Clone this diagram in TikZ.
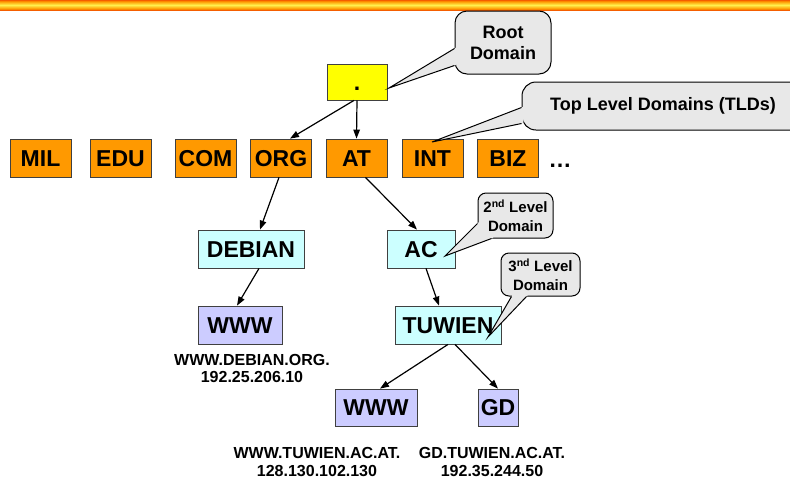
\documentclass[tikz,border=0pt]{standalone}
\usepackage{fontspec}
\setmainfont{Liberation Sans}
\usetikzlibrary{arrows.meta,calc}

\definecolor{tldorange}{HTML}{FF9900}
\definecolor{rootyellow}{HTML}{FFFF00}
\definecolor{subcyan}{HTML}{CCFFFF}
\definecolor{hostblue}{HTML}{CCCCFF}
\definecolor{callgray}{HTML}{E8E8E8}
\definecolor{bardark}{HTML}{990000}
\definecolor{barred}{HTML}{E60000}
\definecolor{barorange}{HTML}{FF9900}
\definecolor{baryellow}{HTML}{FFF04D}
\pgfdeclareverticalshading{titlebar}{100bp}{color(0bp)=(bardark); color(14bp)=(barred); color(32bp)=(barorange); color(50bp)=(baryellow); color(68bp)=(barorange); color(86bp)=(barred); color(100bp)=(bardark)}

% tail of a speech bubble: base point, tip, base point
\newcommand{\drawtail}[3]{%
  \fill[callgray] ($(#1)!-2pt!(#2)$) -- (#2) -- ($(#3)!-2pt!(#2)$) -- cycle;
  \draw[line width=1pt] (#1) -- (#2) -- (#3);}

\begin{document}
\begin{tikzpicture}[x=1pt,y=-1pt,
    box/.style={draw=black!75,line width=0.8pt,inner sep=0pt,minimum height=38pt,
      text height=16.5pt,text depth=0pt,font=\fontsize{23}{23}\selectfont\bfseries},
    tld/.style={box,fill=tldorange,minimum width=61pt},
    sub/.style={box,fill=subcyan},
    host/.style={box,fill=hostblue,minimum height=37pt},
    callbox/.style={draw,line width=1pt,fill=callgray,inner sep=0pt,align=center},
    addr/.style={align=center,inner sep=1pt,font=\fontsize{16}{17.5}\selectfont\bfseries},
    arr/.style={line width=1.2pt,-{Triangle[length=9pt,width=6.5pt]}}]
    \useasboundingbox (0,0) rectangle (790,480);
    \shade[shading=titlebar] (0,0) rectangle (790,10);

    % the tree
    \node[box,fill=rootyellow,minimum width=60pt,minimum height=36pt] (root) at (357,82) {.};
    \foreach \name/\x in {MIL/40.5,EDU/120.5,COM/205.5,ORG/281,AT/356.5,INT/432.5,BIZ/508}
        \node[tld] (\name) at (\x,158) {\name};
    \node[font=\fontsize{23}{23}\selectfont\bfseries,anchor=base] (more) at (560,167) {\ldots};
    \node[sub,minimum width=106pt] (debian) at (251,249) {DEBIAN};
    \node[sub,minimum width=68pt] (ac) at (421,249) {AC};
    \node[host,minimum width=84pt,minimum height=38pt] (debwww) at (240,325) {WWW};
    \node[sub,minimum width=106pt] (tuwien) at (448,325) {TUWIEN};
    \node[host,minimum width=82pt] (tuwww) at (376,407.5) {WWW};
    \node[host,minimum width=40pt] (gd) at (498,407.5) {GD};

    \node[addr] (debaddr) at (252,368.5) {WWW.DEBIAN.ORG.\\192.25.206.10};
    \node[addr] (tuaddr) at (317,462) {WWW.TUWIEN.AC.AT.\\128.130.102.130};
    \node[addr] (gdaddr) at (492,462) {GD.TUWIEN.AC.AT.\\192.35.244.50};

    \draw[arr] ([xshift=-3pt]root.south) -- ([xshift=9pt]ORG.north);
    \draw[arr] (root.south) -- (AT.north);
    \draw[arr] ([xshift=-2pt]ORG.south) -- ([xshift=9pt]debian.north);
    \draw[arr] ([xshift=9pt]AT.south) -- ([xshift=-4pt]ac.north);
    \draw[arr] ([xshift=8pt]debian.south) -- ([xshift=-3pt]debwww.north);
    \draw[arr] ([xshift=5pt]ac.south) -- ([xshift=-9pt]tuwien.north);
    \draw[arr] (tuwien.south) -- ([xshift=4pt]tuwww.north);
    \draw[arr] ([xshift=7pt]tuwien.south) -- (gd.north);

    % speech bubbles
    \node[callbox,rounded corners=12pt,minimum width=96pt,minimum height=63pt,
        font=\fontsize{18}{21}\selectfont\bfseries] (rootcall) at (503,42.5) {Root\\Domain};
    \node[callbox,rounded corners=14pt,minimum width=282pt,minimum height=48pt,
        font=\fontsize{18}{21}\selectfont\bfseries] (tldcall) at (663,106) {Top Level Domains (TLDs)};
    \node[callbox,rounded corners=8pt,minimum width=75pt,minimum height=45pt,
        font=\fontsize{15}{19}\selectfont\bfseries] (seccall) at (515.5,215.5) {2\textsuperscript{nd} Level\\Domain};
    \node[callbox,rounded corners=8pt,minimum width=79pt,minimum height=43pt,
        font=\fontsize{15}{19}\selectfont\bfseries] (thirdcall) at (540.5,274.5) {3\textsuperscript{nd} Level\\Domain};

    \coordinate (roota) at ($(rootcall.north west)+(0,38)$);
    \coordinate (rootb) at ($(rootcall.north west)+(0,55)$);
    \coordinate (roottip) at (389,88);
    \drawtail{roota}{roottip}{rootb}
    \coordinate (tlda) at ($(tldcall.north west)+(0,26)$);
    \coordinate (tldb) at ($(tldcall.north west)+(0,42)$);
    \coordinate (tldtip) at (432,142);
    \drawtail{tlda}{tldtip}{tldb}
    \coordinate (seca) at ($(seccall.south west)+(0,-15)$);
    \coordinate (secb) at ($(seccall.south west)+(14,0)$);
    \coordinate (sectip) at (445,256);
    \drawtail{seca}{sectip}{secb}
    \coordinate (thirda) at ($(thirdcall.south west)+(11,0)$);
    \coordinate (thirdb) at ($(thirdcall.south west)+(26,0)$);
    \coordinate (thirdtip) at (488,337);
    \drawtail{thirda}{thirdtip}{thirdb}
\end{tikzpicture}
\end{document}
